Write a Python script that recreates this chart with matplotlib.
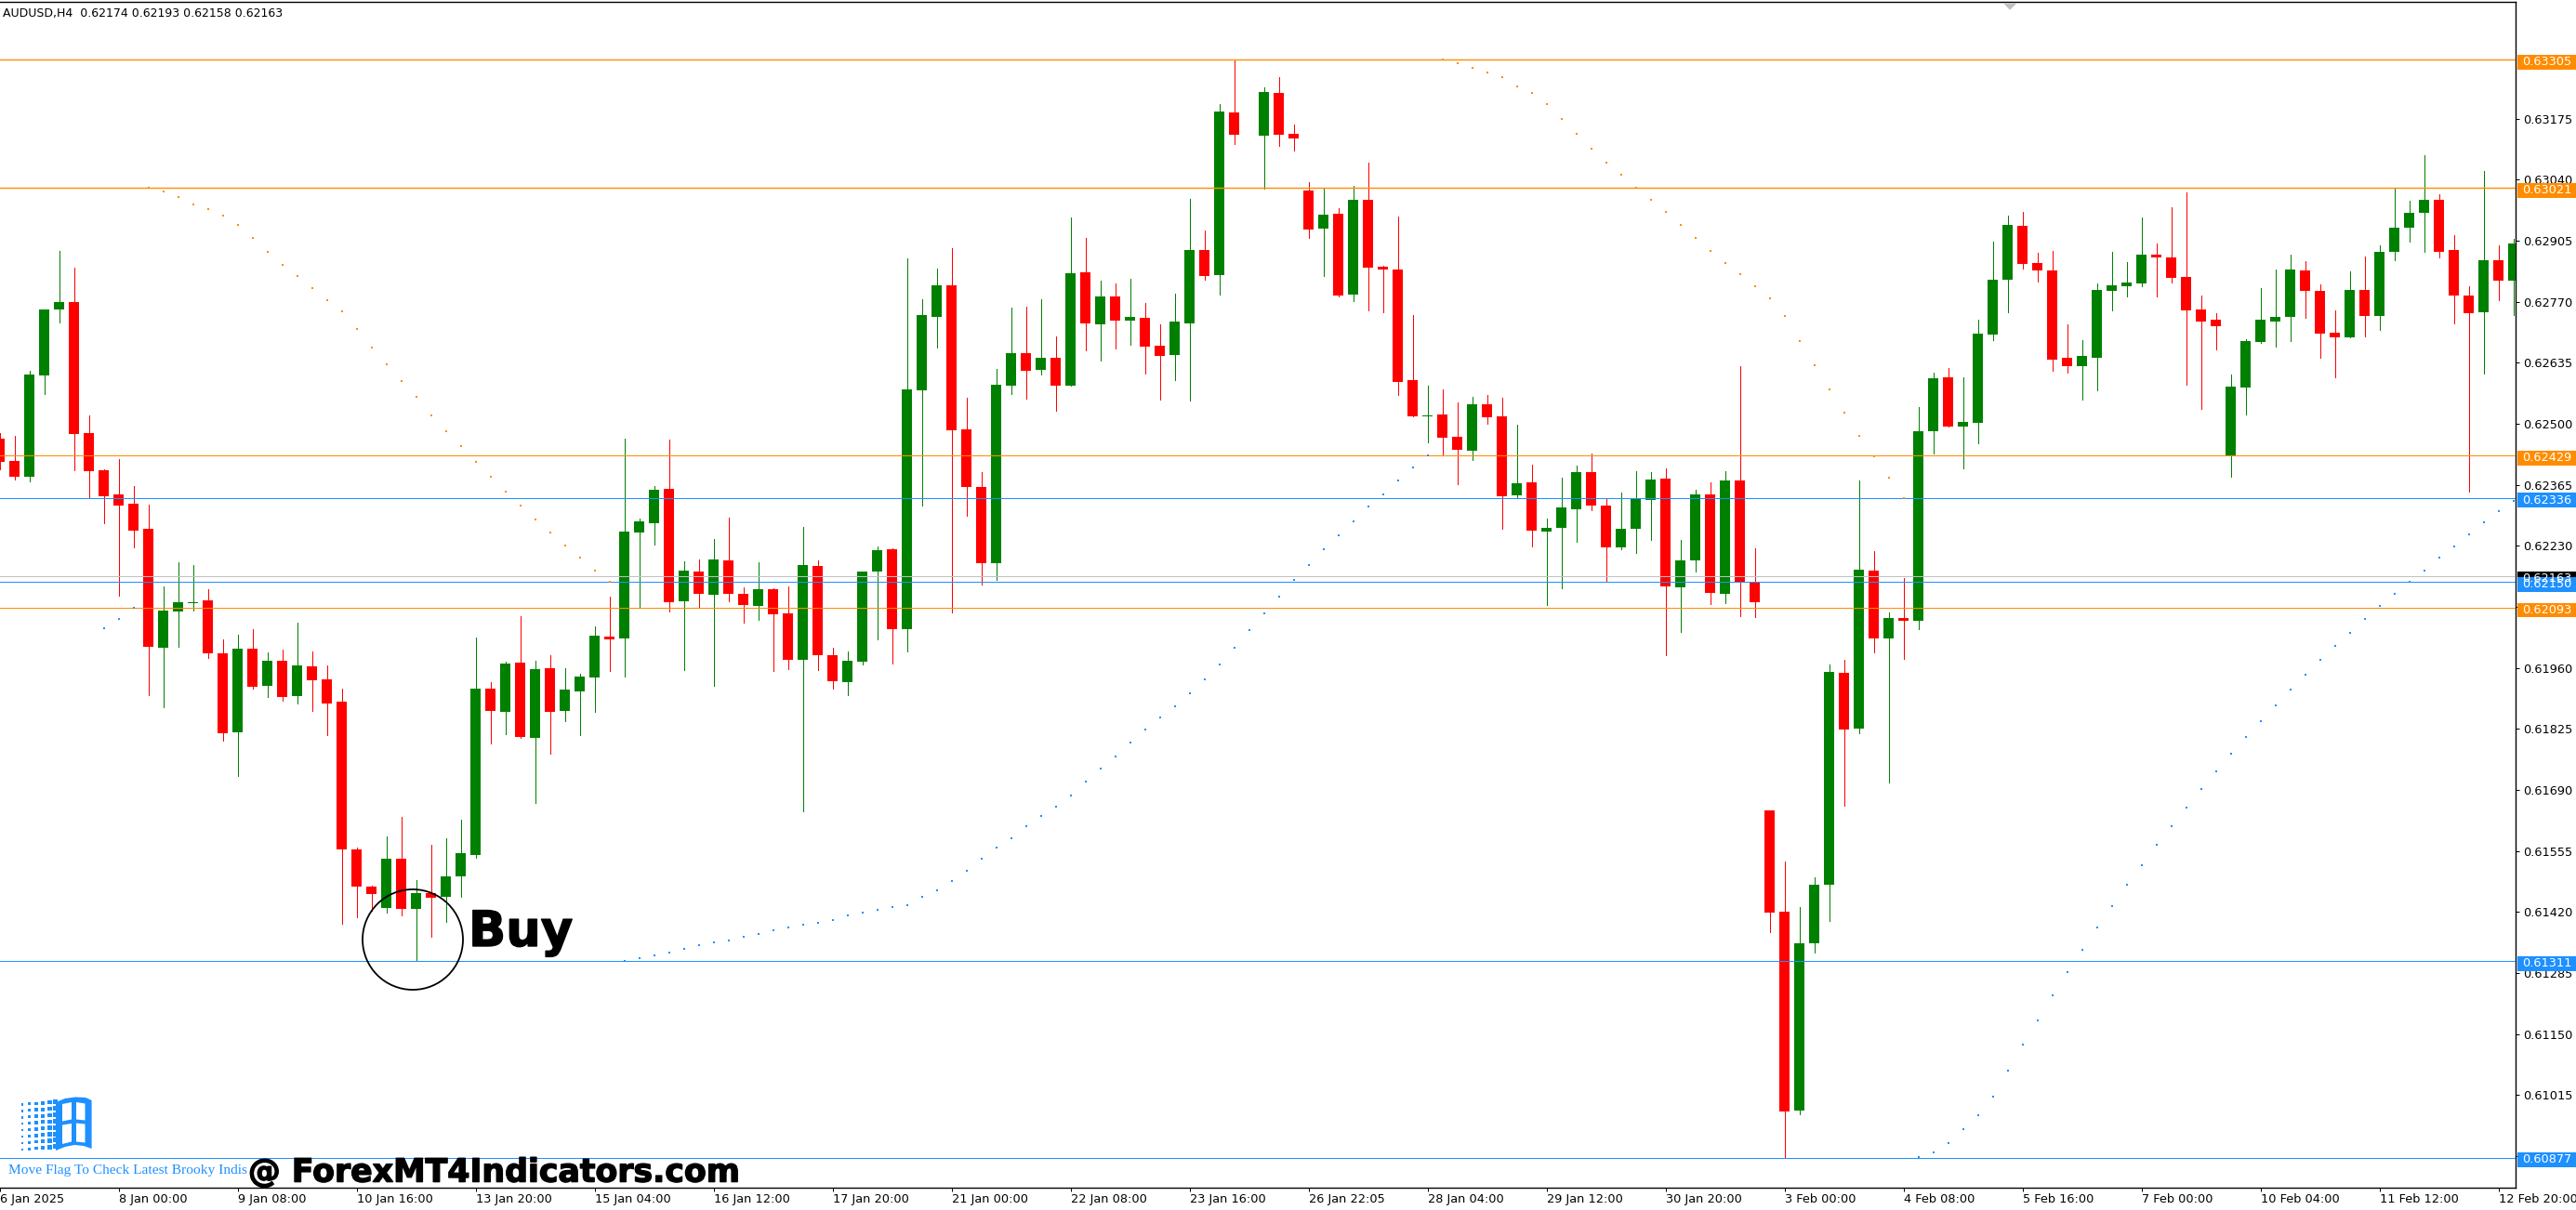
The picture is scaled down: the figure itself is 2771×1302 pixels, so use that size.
import numpy as np
import matplotlib
matplotlib.use("Agg")
import matplotlib.pyplot as plt
import matplotlib.patheffects as pe
from matplotlib.patches import Rectangle, Polygon, Ellipse

nan = float("nan")
# OHLC in price points (1/100000), one entry per H4 bar
opens = [62467,62417,62382,62606,62753,62769,62479,62397,62344,62323,62267,62004,62085,62104,62110,61992,61817,62003,61920,61975,
61898,61963,61934,61885,61558,61476,61429,61538,61427,61462,61453,61498,61546,61914,61863,61971,61805,61959,61864,61908,
61939,62029,62025,62260,62280,62356,62107,62173,62121,62197,62124,62097,62134,62080,61978,62185,61988,61928,61974,62173,
62222,62046,62574,62736,62806,62487,62360,62192,62584,62656,62619,62646,62584,62835,62719,62781,62728,62734,62673,62652,
62721,62884,62829,63188,nan,63137,63231,63141,63016,62931,62964,62786,62995,62847,62841,62597,62516,62520,62471,62440,
62543,62516,62341,62370,62262,62270,62310,62393,62318,62227,62267,62331,62378,62138,62197,62343,62124,62374,62150,61645,
61421,60981,61351,61481,61949,61826,62175,62025,62070,62065,62484,62603,62494,62502,62697,62819,62938,62855,62839,62646,
62627,62646,62794,62804,62810,62874,62868,62824,62752,62730,62430,62580,62681,62726,62736,62839,62794,62701,62691,62796,
62738,62880,62933,62966,62995,62884,62784,62746,62862,62817]
highs = [62480,62473,62617,62753,62882,62845,62519,62400,62421,62362,62321,62140,62194,62187,62134,62023,62033,62045,61994,62000,
62060,61996,61965,61914,61563,61478,61587,61630,61491,61569,61583,61624,62027,61928,61974,62075,61975,61988,61959,61946,
62051,62117,62467,62290,62362,62464,62195,62200,62245,62292,62138,62194,62136,62140,62272,62198,62004,61996,62173,62228,
62224,62865,62775,62843,62888,62557,62393,62621,62757,62759,62775,62693,62956,62911,62817,62810,62820,62767,62719,62787,
62997,62927,63207,63305,nan,63243,63266,63162,63034,63020,62976,63027,63077,62849,62958,62741,62584,62575,62547,62560,
62563,62557,62497,62409,62290,62381,62407,62434,62333,62348,62395,62393,62401,62243,62354,62370,62395,62627,62224,61645,
61532,61431,61497,61968,61978,62374,62218,62083,62159,62537,62613,62623,62603,62730,62903,62960,62968,62878,62882,62719,
62685,62810,62880,62857,62956,62898,62978,63011,62784,62744,62608,62686,62800,62841,62874,62860,62808,62751,62837,62870,
62895,63019,62993,63094,63008,62917,62804,63059,62895,62908]
lows = [62400,62376,62372,62565,62724,62397,62337,62280,62120,62226,61899,61873,62006,62086,61982,61798,61721,61914,61896,61887,
61881,61864,61811,61394,61409,61422,61419,61412,61311,61365,61398,61453,61539,61792,61813,61805,61661,61770,61842,61811,
61863,61953,61940,62092,62232,62084,61956,62093,61920,62107,62060,62066,61953,61957,61643,61955,61914,61900,61967,62023,
61970,61996,62318,62668,62083,62296,62145,62154,62565,62555,62608,62529,62584,62663,62640,62666,62674,62611,62553,62597,
62552,62819,62786,63119,nan,63019,63114,63104,62911,62827,62781,62771,62751,62746,62563,62516,62459,62429,62366,62419,
62500,62267,62335,62229,62099,62136,62239,62308,62151,62222,62214,62243,61988,62039,62173,62101,62103,62074,62073,61376,
60877,60973,61331,61401,61656,61815,61994,61706,61980,62046,62434,62494,62401,62457,62685,62746,62843,62814,62617,62613,
62553,62574,62751,62781,62804,62781,62812,62586,62532,62664,62383,62520,62678,62670,62683,62734,62646,62603,62691,62693,
62708,62862,62903,62880,62868,62721,62350,62611,62773,62741]
closes = [62416,62382,62609,62753,62769,62477,62395,62340,62319,62264,62006,62086,62105,62106,61992,61816,62003,61918,61975,61896,
61965,61933,61881,61558,61476,61460,61538,61427,61462,61451,61498,61550,61914,61864,61969,61807,61957,61863,61912,61940,
62031,62024,62261,62284,62354,62105,62175,62124,62200,62124,62099,62134,62078,61978,62187,61988,61930,61976,62173,62220,
62046,62575,62741,62806,62485,62360,62192,62586,62656,62617,62646,62584,62832,62721,62781,62728,62736,62670,62650,62726,
62884,62827,63190,63139,nan,63233,63139,63131,62930,62963,62784,62995,62845,62841,62592,62516,62519,62469,62442,62543,
62514,62340,62368,62263,62270,62315,62393,62318,62227,62267,62334,62376,62140,62197,62343,62126,62374,62150,62105,61419,
60979,61351,61481,61951,61824,62177,62025,62070,62064,62484,62600,62494,62504,62699,62819,62940,62853,62839,62641,62627,
62650,62796,62806,62812,62874,62868,62822,62751,62726,62716,62582,62683,62730,62736,62841,62794,62699,62691,62796,62738,
62880,62933,62966,62995,62880,62784,62744,62862,62817,62898]

# indicator dots: start bar and values in points
orange_a_start = 10
orange_a = [63021,63013,63001,62986,62974,62960,62939,62910,62881,62852,62826,62799,62774,62749,62709,62669,62631,62594,62559,62519,
62484,62450,62415,62382,62349,62318,62288,62259,62230,62203,62176,62150]
orange_b_start = 97
orange_b = [63305,63298,63288,63276,63266,63247,63231,63206,63174,63141,63109,63078,63050,63021,62995,62968,62939,62910,62882,62855,
62830,62804,62778,62738,62682,62629,62575,62524,62474,62428,62380,62335]
blue_a_start = 7
blue_a = [62047,62069,62092]
blue_b_start = 42
blue_b = [61311,61317,61325,61331,61338,61346,61352,61358,61366,61372,61379,61385,61391,61397,61403,61412,61418,61424,61430,61436,
61453,61469,61488,61512,61537,61562,61584,61609,61632,61654,61677,61708,61737,61765,61794,61823,61850,61876,61903,61934,
61967,62004,62043,62080,62117,62154,62187,62222,62254,62285,62316,62344,62374,62403,62429]
blue_c_start = 129
blue_c = [60878,60888,60909,60940,60970,61012,61069,61127,61180,61235,61287,61336,61385,61433,61480,61523,61568,61610,61650,61692,
61731,61770,61807,61843,61878,61911,61945,61978,62008,62038,62068,62096,62123,62150,62176,62203,62229,62256,62281,62306,62329]

orange_levels = [0.63305, 0.63021, 0.62429, 0.62093]
blue_levels = [0.62336, 0.62150, 0.61311, 0.60877]
bid_level = 0.62163

y_ticks = [0.63175,0.63040,0.62905,0.62770,0.62635,0.62500,0.62365,0.62230,0.62095,0.61960,0.61825,0.61690,0.61555,0.61420,0.61285,0.61150,0.61015,0.60880]
x_tick_bars = list(range(0, 169, 8))
x_tick_labels = ["6 Jan 2025","8 Jan 00:00","9 Jan 08:00","10 Jan 16:00","13 Jan 20:00","15 Jan 04:00","16 Jan 12:00","17 Jan 20:00",
"21 Jan 00:00","22 Jan 08:00","23 Jan 16:00","26 Jan 22:05","28 Jan 04:00","29 Jan 12:00","30 Jan 20:00","3 Feb 00:00","4 Feb 08:00",
"5 Feb 16:00","7 Feb 00:00","10 Feb 04:00","11 Feb 12:00","12 Feb 20:00"]

W, H = 2771, 1302
RED, GREEN, ORANGE, BLUE = "#FF0000", "#008000", "#FF8C00", "#1E90FF"
plt.rcParams["font.family"] = ["DejaVu Sans"]

def fx(x): return x / W
def fy(y): return 1 - y / H

fig = plt.figure(figsize=(W / 100, H / 100), dpi=100, facecolor="white")
top, bottom, right = 2.2, 1278.0, 2706.0
ax = fig.add_axes([fx(-0.5), fy(bottom), (right + 0.5) / W, (bottom - top) / H])
ax.set_xlim(0, (right + 0.5) / 16)
ax.set_ylim(0.608102, 0.634327)

o, h, l, c = [np.array(v, float) / 1e5 for v in (opens, highs, lows, closes)]
x = np.arange(len(o))
col = [GREEN if cc >= oo else RED for oo, cc in zip(o, c)]
ax.vlines(x, l, h, colors=col, lw=0.72, antialiased=False, zorder=2)
ax.bar(x, np.abs(c - o), bottom=np.minimum(o, c), width=11.5 / 16, color=col, lw=0, antialiased=False, zorder=3)

ax.axhline(bid_level, color="#C0C0C0", lw=0.72, antialiased=False, zorder=4)
for i, lv in enumerate(orange_levels):
    ax.axhline(lv, color=ORANGE, lw=1.0 if i < 2 else 0.72, zorder=4, antialiased=i < 2)
for i, lv in enumerate(blue_levels):
    ax.axhline(lv, color=BLUE, lw=0.72, zorder=4, antialiased=False)

for start, vals, colr in [(orange_a_start, orange_a, ORANGE), (orange_b_start, orange_b, ORANGE),
                          (blue_a_start, blue_a, BLUE), (blue_b_start, blue_b, BLUE), (blue_c_start, blue_c, BLUE)]:
    xs = start + np.arange(len(vals))
    ax.scatter(xs, np.array(vals) / 1e5, s=3.4, marker="s", color=colr, linewidths=0, zorder=5)

ax.spines["left"].set_visible(False)
for s in ("top", "right", "bottom"):
    ax.spines[s].set_linewidth(1.0)
ax.yaxis.tick_right()
ax.set_yticks(y_ticks, [f"{v:.5f}" for v in y_ticks])
ax.tick_params(axis="y", length=3, width=0.72, pad=2.5, labelsize=9.3)
ax.set_xticks(x_tick_bars, x_tick_labels, ha="left")
ax.tick_params(axis="x", length=3, width=0.72, pad=1.5, labelsize=9.3)

# price tags on the right, in pixel coordinates taken from the axes scale
def tag(price, text, face):
    ypx = ax.transData.transform((0, price))[1]
    Y = H - ypx
    fig.add_artist(Rectangle((fx(2707.5), fy(Y + 10.3)), 63.5 / W, 15.6 / H, transform=fig.transFigure,
                             facecolor=face, edgecolor="none", zorder=6))
    fig.text(fx(2713), fy(Y + 2.4), text, color="white", fontsize=9.3, ha="left", va="center", zorder=6)

tag(bid_level, "0.62163", "black")
for lv in orange_levels:
    tag(lv, f"{lv:.5f}", ORANGE)
for lv in blue_levels:
    tag(lv, f"{lv:.5f}", BLUE)

heavy = [pe.withStroke(linewidth=1.0, foreground="black")]
fig.text(fx(3), fy(14.5), "AUDUSD,H4  0.62174 0.62193 0.62158 0.62163", fontsize=9, ha="left", va="center", color="black", zorder=6)
fig.text(fx(504), fy(1018), "Buy", fontsize=38, fontweight="bold", ha="left", va="baseline", color="black", zorder=7, path_effects=heavy)
fig.add_artist(Ellipse((fx(444), fy(1011)), 108 / W, 108 / H, transform=fig.transFigure, facecolor="none", edgecolor="black", lw=1.3, zorder=7))
fig.text(fx(9), fy(1259), "Move Flag To Check Latest Brooky Indis", fontsize=11.1, family="Liberation Serif", color=BLUE, ha="left", va="center", zorder=7)
fig.text(fx(267), fy(1271.6), "@ ForexMT4Indicators.com", fontsize=25, fontweight="bold", ha="left", va="baseline", color="black", zorder=7, path_effects=heavy)

# top-of-window shift marker
fig.add_artist(Polygon([(fx(2155), fy(3.5)), (fx(2169.5), fy(3.5)), (fx(2162), fy(10.7))], closed=True, transform=fig.transFigure,
                       facecolor="#C0C0C0", edgecolor="none", zorder=7))

# flag logo
def P(pts, face):
    fig.add_artist(Polygon([(fx(a), fy(b)) for a, b in pts], closed=True, transform=fig.transFigure, facecolor=face, edgecolor="none", zorder=7))
P([(60, 1186), (70, 1182), (81, 1180.5), (92, 1181), (98.6, 1184), (98.6, 1236), (90, 1233), (80, 1232), (70, 1234), (60, 1238)], BLUE)
P([(67, 1188), (77, 1186), (77, 1204.5), (67, 1206.5)], "white")
P([(82, 1186), (91.5, 1187.5), (91.5, 1205.5), (82, 1204.5)], "white")
P([(67, 1210.5), (77, 1209), (77, 1228.5), (67, 1231)], "white")
P([(82, 1208.5), (91.5, 1209.5), (91.5, 1229.5), (82, 1228.5)], "white")
for i, (cx, sz) in enumerate(zip([23, 30, 37, 44, 51, 57], [2.5, 3, 3.5, 4, 4.5, 5])):
    for r in range(8):
        Yc = 1188.5 - i * 0.6 + r * 6.9
        fig.add_artist(Rectangle((fx(cx), fy(Yc + sz / 2)), sz / W, sz / H, transform=fig.transFigure, facecolor=BLUE, edgecolor="none", zorder=7))

fig.savefig("out.png", dpi=100, facecolor="white")
